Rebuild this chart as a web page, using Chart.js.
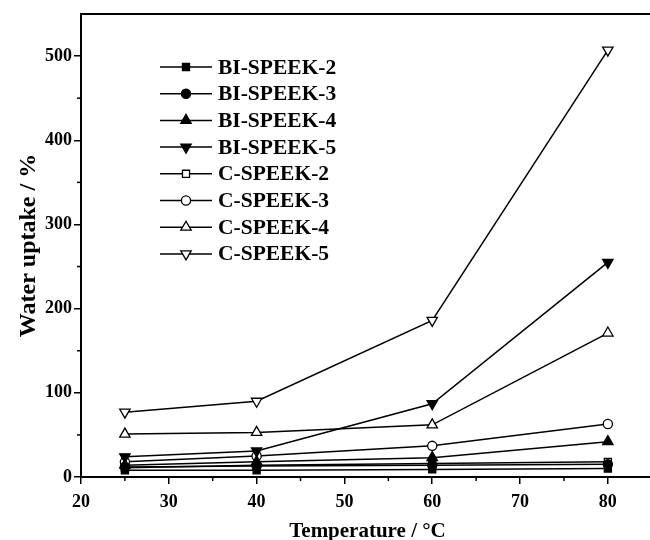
<!DOCTYPE html>
<html><head><meta charset="utf-8">
<script src="https://cdn.jsdelivr.net/npm/chart.js@4.4.1/dist/chart.umd.min.js"></script>
<style>html,body{margin:0;padding:0;background:#fff}canvas{display:block}</style>
</head><body>
<canvas id="c" width="650" height="540"></canvas>
<script>
const temperatures = [25, 40, 60, 80];
const seriesNames = ["BI-SPEEK-2","BI-SPEEK-3","BI-SPEEK-4","BI-SPEEK-5","C-SPEEK-2","C-SPEEK-3","C-SPEEK-4","C-SPEEK-5"];
const bi2 = [8, 8, 9, 10];
const bi3 = [12, 13, 14, 15];
const bi4 = [14, 18, 23, 42];
const bi5 = [24, 31, 87, 255];
const c2 = [11, 14, 16, 18];
const c3 = [18, 25, 37, 63];
const c4 = [51, 53, 62, 171];
const c5 = [77, 90, 186, 507];
const xTickLabels = [20, 30, 40, 50, 60, 70, 80];
const yTickLabels = [0, 100, 200, 300, 400, 500];

const seriesValues = [bi2, bi3, bi4, bi5, c2, c3, c4, c5];
const styles = [
  {ps:'rect', rot:0, fill:'#000', r:5},
  {ps:'circle', rot:0, fill:'#000', r:4.6},
  {ps:'triangle', rot:0, fill:'#000', r:6},
  {ps:'triangle', rot:180, fill:'#000', r:6},
  {ps:'rect', rot:0, fill:'#fff', r:5},
  {ps:'circle', rot:0, fill:'#fff', r:4.6},
  {ps:'triangle', rot:0, fill:'#fff', r:6},
  {ps:'triangle', rot:180, fill:'#fff', r:6}
];
const FONT = "'Liberation Serif', 'Times New Roman', serif";

const datasets = seriesNames.map((name, i) => ({
  label: name,
  data: temperatures.map((t, j) => ({x: t, y: seriesValues[i][j]})),
  borderColor: '#000',
  borderWidth: 1.5,
  backgroundColor: styles[i].fill,
  pointStyle: styles[i].ps,
  rotation: styles[i].rot,
  pointRadius: styles[i].r,
  pointBackgroundColor: styles[i].fill,
  pointBorderColor: '#000',
  pointBorderWidth: 1.3,
  tension: 0,
  fill: false
}));

const extras = {
  id: 'extras',
  afterDraw(chart) {
    const ctx = chart.ctx;
    const xs = chart.scales.x, ys = chart.scales.y;
    const ca = chart.chartArea;
    ctx.save();
    ctx.strokeStyle = '#000';
    ctx.lineWidth = 2;
    ctx.beginPath(); ctx.moveTo(ca.left, ca.top); ctx.lineTo(ca.right, ca.top); ctx.stroke();
    ctx.lineWidth = 1.5;
    for (let v = 25; v < 85; v += 10) {
      const px = xs.getPixelForValue(v);
      ctx.beginPath(); ctx.moveTo(px, ca.bottom); ctx.lineTo(px, ca.bottom + 4); ctx.stroke();
    }
    for (let v = 50; v < 550; v += 100) {
      const py = ys.getPixelForValue(v);
      ctx.beginPath(); ctx.moveTo(ca.left, py); ctx.lineTo(ca.left - 4, py); ctx.stroke();
    }
    ctx.fillStyle = '#000';
    ctx.font = "bold 21px " + FONT;
    ctx.textAlign = 'center';
    ctx.textBaseline = 'alphabetic';
    ctx.fillText('Temperature / °C', (ca.left + ca.right) / 2 + 2, 537);
    const lx0 = 160, lx1 = 212, mx = 186, tx = 218, y0 = 67, dy = 26.7;
    ctx.font = "bold 21.5px " + FONT;
    ctx.textAlign = 'left';
    ctx.textBaseline = 'middle';
    chart.data.datasets.forEach((ds, i) => {
      const y = y0 + i * dy;
      ctx.lineWidth = 1.5;
      ctx.strokeStyle = '#000';
      ctx.beginPath(); ctx.moveTo(lx0, y); ctx.lineTo(lx1, y); ctx.stroke();
      ctx.fillStyle = ds.pointBackgroundColor;
      ctx.lineWidth = 1.3;
      Chart.helpers.drawPoint(ctx, {pointStyle: ds.pointStyle, rotation: ds.rotation, radius: ds.pointRadius, borderWidth: 1.3}, mx, y);
      ctx.fillStyle = '#000';
      ctx.fillText(ds.label, tx, y + 1);
    });
    ctx.restore();
  }
};

new Chart(document.getElementById('c'), {
  type: 'line',
  data: { datasets },
  plugins: [extras],
  options: {
    responsive: false,
    animation: false,
    layout: { autoPadding: false, padding: { top: 14, right: 0, left: 0, bottom: 0 } },
    plugins: { legend: { display: false }, tooltip: { enabled: false } },
    scales: {
      x: {
        type: 'linear', min: 20, max: 84.8,
        afterBuildTicks: s => { s.ticks = xTickLabels.map(v => ({value: v})); },
        afterFit: s => { s.height = 63; },
        grid: { display: true, drawOnChartArea: false, drawTicks: true, tickLength: 7, color: '#000', lineWidth: 1.5 },
        border: { display: true, color: '#000', width: 2 },
        ticks: { color: '#000', font: { family: FONT, size: 18, weight: 'bold' }, padding: 8, maxRotation: 0 }
      },
      y: {
        type: 'linear', min: 0, max: 550,
        afterBuildTicks: s => { s.ticks = yTickLabels.map(v => ({value: v})); },
        afterFit: s => { s.width = 81; },
        grid: { display: true, drawOnChartArea: false, drawTicks: true, tickLength: 7, color: '#000', lineWidth: 1.5 },
        border: { display: true, color: '#000', width: 2 },
        ticks: { color: '#000', font: { family: FONT, size: 18, weight: 'bold' }, padding: 2 },
        title: { display: true, text: 'Water uptake / %', color: '#000', font: { family: FONT, size: 24, weight: 'bold' }, padding: { top: 14, bottom: 0 } }
      }
    }
  }
});
</script>
</body></html>
